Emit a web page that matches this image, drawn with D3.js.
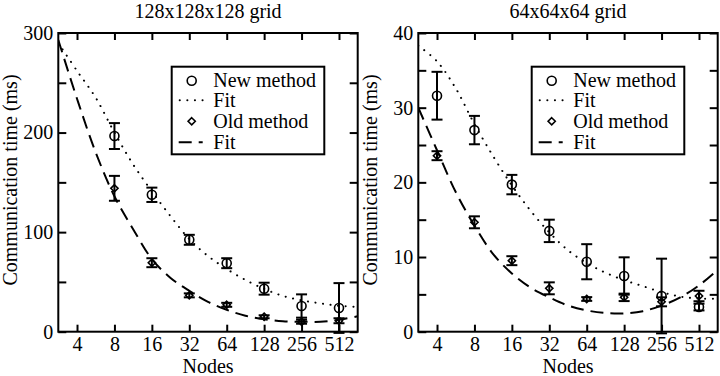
<!DOCTYPE html>
<html>
<head>
<meta charset="utf-8">
<script src="https://cdn.jsdelivr.net/npm/d3@7"></script>
<style>
  html, body { margin: 0; padding: 0; background: #fff; }
  svg { display: block; }
  svg text { font-family: "Liberation Serif", Tinos, "Times New Roman", Times, "DejaVu Serif", serif; }
</style>
</head>
<body>
<div id="chart"></div>
<script>
const serif = '"Liberation Serif", Tinos, "Times New Roman", Times, "DejaVu Serif", serif';

// Node counts (x axis)
const tickNodes = [4, 8, 16, 32, 64, 128, 256, 512];

// 128x128x128 grid
const nodes128 = [8, 16, 32, 64, 128, 256, 512];
const newTime128 = [196.5, 137.5, 92.3, 68.8, 43.2, 25.8, 23.8];
const newErr128 = [13, 7.2, 5, 5, 6, 11.7, 25];
const oldTime128 = [144, 69.3, 36.5, 27, 15, 10, 11];
const oldErr128 = [12.5, 4.5, 2, 2, 1.5, 2, 2.5];

// 64x64x64 grid
const nodes64 = [4, 8, 16, 32, 64, 128, 256, 512];
const newTime64 = [31.6, 27.0, 19.7, 13.5, 9.37, 7.46, 4.78, 3.3];
const newErr64 = [3.2, 1.9, 1.3, 1.5, 2.35, 2.5, 5.0, 0.45];
const oldTime64 = [23.57, 14.65, 9.51, 5.81, 4.38, 4.6, 4.0, 4.78];
const oldErr64 = [0.6, 0.8, 0.6, 0.8, 0.25, 0.5, 0.6, 0.7];

// fit curves, read at half-octave steps (log2 of node count)
const fitExp = [1.5, 2, 2.5, 3, 3.5, 4, 4.5, 5, 5.5, 6, 6.5, 7, 7.5, 8, 8.5, 9, 9.5];
const newFit128 = [290, 262, 235, 200, 168, 141, 116, 93, 76, 63, 52, 43, 36, 31.5, 28.5, 26, 25];
const oldFit128 = [293, 234, 180, 136, 103, 73, 54, 41, 30, 22, 16, 12.5, 10.5, 10, 10, 12, 15.5];
const newFit64 = [38.3, 36.2, 32.6, 27.8, 23.5, 19.6, 16.2, 13.3, 10.9, 9.2, 7.9, 6.9, 6.1, 5.3, 4.7, 4.45, 4.4];
const oldFit64 = [30.0, 24.3, 18.7, 14.2, 10.4, 7.8, 5.9, 4.6, 3.5, 2.85, 2.5, 2.45, 2.75, 3.5, 4.6, 6.2, 8.3];

const legendLabels = ['New method', 'Fit', 'Old method', 'Fit'];

const width = 720, height = 376;
const svg = d3.select('#chart').append('svg')
  .attr('width', width)
  .attr('height', height)
  .attr('font-family', serif);

svg.append('rect').attr('width', width).attr('height', height).attr('fill', '#fff');

function diamond(s) {
  return `M0,${-s}L${s},0L0,${s}L${-s},0Z`;
}

function drawPanel(opts) {
  const left = opts.left, right = opts.left + 299.4;
  const top = 33, bottom = 331.7;

  const x = d3.scaleLog().base(2)
    .domain([Math.SQRT2 * 2, Math.SQRT2 * 512])
    .range([left, right]);
  const y = d3.scaleLinear()
    .domain([0, opts.yMax])
    .range([bottom, top]);

  const g = svg.append('g');

  // title
  g.append('text')
    .attr('x', (left + right) / 2)
    .attr('y', 18)
    .attr('text-anchor', 'middle')
    .style('font-size', '20px')
    .text(opts.title);

  // axes (ticks pointing inward)
  g.append('g').attr('transform', `translate(0,${bottom})`)
    .call(d3.axisBottom(x).tickValues(tickNodes).tickFormat(d3.format('d'))
      .tickSizeInner(-7).tickSizeOuter(0).tickPadding(5));
  g.append('g').attr('transform', `translate(0,${top})`)
    .call(d3.axisTop(x).tickValues(tickNodes).tickFormat('')
      .tickSizeInner(-7).tickSizeOuter(0));
  g.append('g').attr('transform', `translate(${left},0)`)
    .call(d3.axisLeft(y).tickValues(opts.yMajor).tickFormat(d3.format('d'))
      .tickSizeInner(-8).tickSizeOuter(0).tickPadding(5));
  g.append('g').attr('transform', `translate(${left},0)`)
    .call(d3.axisLeft(y).tickValues(opts.yMinor).tickFormat('')
      .tickSizeInner(-8).tickSizeOuter(0));
  g.append('g').attr('transform', `translate(${right},0)`)
    .call(d3.axisRight(y).tickValues(opts.yMajor.concat(opts.yMinor)).tickFormat('')
      .tickSizeInner(-8).tickSizeOuter(0));

  g.selectAll('.domain').remove();
  g.selectAll('g[font-family]').attr('font-family', serif).attr('font-size', 20);
  g.selectAll('.tick line').attr('stroke', '#000').attr('stroke-width', 2);
  g.selectAll('.tick text').attr('fill', '#000');

  // frame
  g.append('rect')
    .attr('x', left).attr('y', top)
    .attr('width', right - left).attr('height', bottom - top)
    .attr('fill', 'none').attr('stroke', '#000').attr('stroke-width', 2);

  // axis labels
  g.append('text')
    .attr('x', (left + right) / 2)
    .attr('y', 373)
    .attr('text-anchor', 'middle')
    .style('font-size', '20px')
    .text('Nodes');
  g.append('text')
    .attr('transform', `translate(${left - 41},180) rotate(-90)`)
    .attr('text-anchor', 'middle')
    .style('font-size', '20px')
    .text('Communication time (ms)');

  // clip for the fit lines
  const clipId = 'clip' + Math.round(opts.left);
  svg.append('clipPath').attr('id', clipId)
    .append('rect').attr('x', left).attr('y', top)
    .attr('width', right - left).attr('height', bottom - top);

  const line = d3.line()
    .x((d, i) => x(Math.pow(2, fitExp[i])))
    .y(d => y(d))
    .curve(d3.curveCatmullRom.alpha(0.5));

  const fits = g.append('g').attr('clip-path', `url(#${clipId})`);
  fits.append('path')
    .attr('d', line(opts.newFit))
    .attr('fill', 'none').attr('stroke', '#000')
    .attr('stroke-width', 2).attr('stroke-linecap', 'round')
    .attr('stroke-dasharray', '0.1,7.5');
  fits.append('path')
    .attr('d', line(opts.oldFit))
    .attr('fill', 'none').attr('stroke', '#000')
    .attr('stroke-width', 2)
    .attr('stroke-dasharray', '13,7');

  // error bars
  function errorBars(nodes, vals, errs) {
    const eb = g.append('g').attr('stroke', '#000').attr('stroke-width', 2).attr('fill', 'none');
    nodes.forEach((n, i) => {
      const cx = x(n), hi = y(vals[i] + errs[i]), lo = y(vals[i] - errs[i]);
      eb.append('line').attr('x1', cx).attr('x2', cx).attr('y1', hi).attr('y2', lo);
      eb.append('line').attr('x1', cx - 5.5).attr('x2', cx + 5.5).attr('y1', hi).attr('y2', hi);
      eb.append('line').attr('x1', cx - 5.5).attr('x2', cx + 5.5).attr('y1', lo).attr('y2', lo);
    });
  }
  errorBars(opts.nodes, opts.newVals, opts.newErr);
  errorBars(opts.nodes, opts.oldVals, opts.oldErr);

  // markers
  g.append('g').selectAll('circle')
    .data(opts.newVals)
    .join('circle')
    .attr('cx', (d, i) => x(opts.nodes[i]))
    .attr('cy', d => y(d))
    .attr('r', 4.5)
    .attr('fill', 'none').attr('stroke', '#000').attr('stroke-width', 1.6);
  g.append('g').selectAll('path')
    .data(opts.oldVals)
    .join('path')
    .attr('transform', (d, i) => `translate(${x(opts.nodes[i])},${y(d)})`)
    .attr('d', diamond(3.6))
    .attr('fill', 'none').attr('stroke', '#000').attr('stroke-width', 1.6);

  // legend
  const lx = left + 113.4, ly = 66.7;
  const legend = g.append('g');
  legend.append('rect')
    .attr('x', lx).attr('y', ly)
    .attr('width', 152.6).attr('height', 87.6)
    .attr('fill', '#fff').attr('stroke', '#000').attr('stroke-width', 2);
  const rowY = [80.7, 100.3, 121.3, 142.3];
  legend.append('circle')
    .attr('cx', lx + 20).attr('cy', rowY[0]).attr('r', 4.5)
    .attr('fill', 'none').attr('stroke', '#000').attr('stroke-width', 1.6);
  legend.append('line')
    .attr('x1', lx + 8).attr('x2', lx + 31).attr('y1', rowY[1]).attr('y2', rowY[1])
    .attr('stroke', '#000').attr('stroke-width', 2).attr('stroke-linecap', 'round')
    .attr('stroke-dasharray', '0.1,7.5');
  legend.append('path')
    .attr('transform', `translate(${lx + 20},${rowY[2]})`)
    .attr('d', diamond(3.6))
    .attr('fill', 'none').attr('stroke', '#000').attr('stroke-width', 1.6);
  legend.append('line')
    .attr('x1', lx + 7).attr('x2', lx + 31).attr('y1', rowY[3]).attr('y2', rowY[3])
    .attr('stroke', '#000').attr('stroke-width', 2)
    .attr('stroke-dasharray', '13,7');
  legend.selectAll('text.lab')
    .data(legendLabels)
    .join('text')
    .attr('class', 'lab')
    .attr('x', lx + 41.6)
    .attr('y', (d, i) => rowY[i] + 6.5)
    .style('font-size', '20px')
    .text(d => d);
}

drawPanel({
  left: 58.3, title: '128x128x128 grid',
  yMax: 300, yMajor: [0, 100, 200, 300], yMinor: [50, 150, 250],
  nodes: nodes128,
  newVals: newTime128, newErr: newErr128,
  oldVals: oldTime128, oldErr: oldErr128,
  newFit: newFit128, oldFit: oldFit128
});

drawPanel({
  left: 418.3, title: '64x64x64 grid',
  yMax: 40, yMajor: [0, 10, 20, 30, 40], yMinor: [5, 15, 25, 35],
  nodes: nodes64,
  newVals: newTime64, newErr: newErr64,
  oldVals: oldTime64, oldErr: oldErr64,
  newFit: newFit64, oldFit: oldFit64
});
</script>
</body>
</html>
